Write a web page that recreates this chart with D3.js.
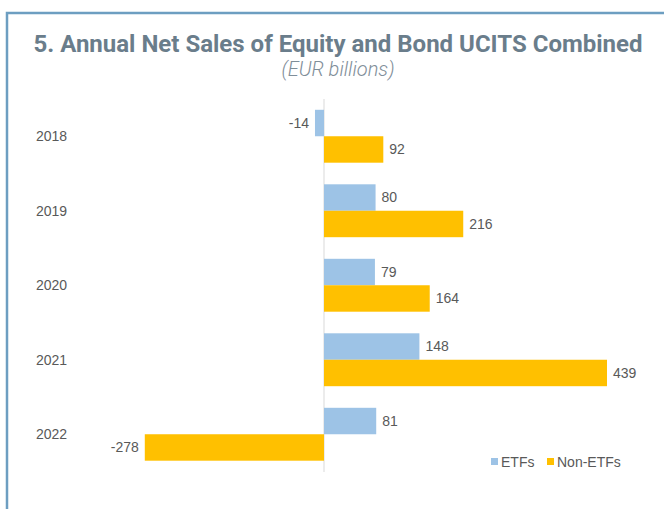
<!DOCTYPE html>
<html>
<head>
<meta charset="utf-8">
<script src="https://cdn.jsdelivr.net/npm/d3@7"></script>
<style>
  body { margin: 0; background: #fff; }
  svg { display: block; }
</style>
</head>
<body>
<svg id="chart"></svg>
<script>
'use strict';

// data
var years   = ['2018', '2019', '2020', '2021', '2022'];
var etfs    = [-14, 80, 79, 148, 81];
var nonEtfs = [92, 216, 164, 439, -278];
var seriesNames = ['ETFs', 'Non-ETFs'];
var colors = ['#9dc3e6', '#ffc000'];

var W = 664, H = 509;
var svg = d3.select('#chart').attr('width', W).attr('height', H);

// frame
svg.append('path')
  .attr('d', 'M7,' + H + 'V13H' + W)
  .attr('fill', 'none').attr('stroke', '#6d9ec1').attr('stroke-width', 2.5);

// titles
svg.append('text')
  .attr('x', 338).attr('y', 52).attr('text-anchor', 'middle')
  .style('font-family', 'Roboto').style('font-weight', 'bold').style('font-size', '24px')
  .attr('fill', '#6a7d8b')
  .text('5. Annual Net Sales of Equity and Bond UCITS Combined');
svg.append('text')
  .attr('x', 338).attr('y', 76).attr('text-anchor', 'middle')
  .style('font-family', 'Roboto').style('font-weight', 300).style('font-style', 'italic').style('font-size', '20px')
  .attr('fill', '#7f8e99')
  .text('(EUR billions)');

// scales
var x = d3.scaleLinear().domain([0, 439]).range([324, 607]);
var y = d3.scaleBand().domain(years).range([99, 471.5]).paddingInner(0.29).paddingOuter(0.145);
var y1 = d3.scaleBand().domain(seriesNames).range([0, y.bandwidth()]);

var rows = years.map(function(yr, i){ return { year: yr, vals: [etfs[i], nonEtfs[i]] }; });

var g = svg.append('g');

// zero line
g.append('line')
  .attr('x1', x(0)).attr('x2', x(0)).attr('y1', 99).attr('y2', 472)
  .attr('stroke', '#d9d9d9').attr('stroke-width', 1);

var grp = g.selectAll('.yr').data(rows).enter().append('g')
  .attr('transform', function(d){ return 'translate(0,' + y(d.year) + ')'; });

grp.selectAll('rect').data(function(d){ return d.vals; }).enter().append('rect')
  .attr('x', function(v){ return Math.min(x(0), x(v)); })
  .attr('width', function(v){ return Math.abs(x(v) - x(0)); })
  .attr('y', function(v, i){ return y1(seriesNames[i]); })
  .attr('height', y1.bandwidth())
  .attr('fill', function(v, i){ return colors[i]; });

grp.selectAll('text.val').data(function(d){ return d.vals; }).enter().append('text')
  .attr('class', 'val')
  .attr('x', function(v){ return v < 0 ? x(v) - 6 : x(v) + 6; })
  .attr('y', function(v, i){ return y1(seriesNames[i]) + y1.bandwidth() / 2; })
  .attr('dy', '0.35em')
  .attr('text-anchor', function(v){ return v < 0 ? 'end' : 'start'; })
  .style('font-family', 'Liberation Sans, Arial').style('font-size', '14px')
  .attr('fill', '#595959')
  .text(function(v){ return v; });

// year labels
g.selectAll('text.yr').data(years).enter().append('text')
  .attr('x', 36).attr('y', function(d){ return y(d) + y.bandwidth() / 2; })
  .attr('dy', '0.35em')
  .style('font-family', 'Liberation Sans, Arial').style('font-size', '14px')
  .attr('fill', '#595959')
  .text(function(d){ return d; });

// legend
var leg = svg.append('g').attr('transform', 'translate(491,462)');
var legX = [0, 56];
seriesNames.forEach(function(name, i){
  leg.append('rect').attr('x', legX[i]).attr('y', -4).attr('width', 7).attr('height', 7).attr('fill', colors[i]);
  leg.append('text').attr('x', legX[i] + 10).attr('y', 0).attr('dy', '0.35em')
    .style('font-family', 'Liberation Sans, Arial').style('font-size', '14px')
    .attr('fill', '#595959').text(name);
});
</script>
</body>
</html>
